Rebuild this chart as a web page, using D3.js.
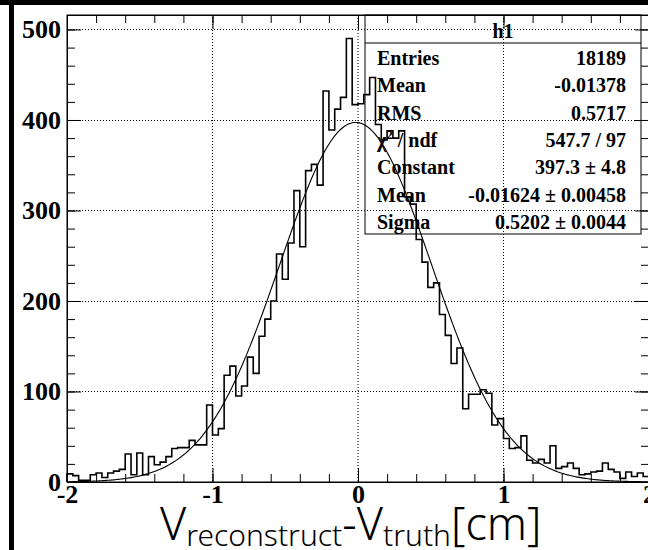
<!DOCTYPE html>
<html>
<head>
<meta charset="utf-8">
<script src="https://cdn.jsdelivr.net/npm/d3@7/dist/d3.min.js"></script>
<style>
  body { margin: 0; background: #fff; }
  svg { display: block; }
</style>
</head>
<body>
<div id="chart"></div>
<script>
// histogram h1: 100 bins from -2 to 2
var xMin = -2, xMax = 2, nBins = 100;
var counts = [
  9, 7, 2, 2, 8, 10, 5, 10, 12, 14,
  31, 8, 32, 8, 28, 19, 22, 28, 37, 38,
  38, 46, 41, 41, 85, 52, 59, 118, 128, 95,
  106, 138, 120, 161, 180, 200, 252, 224, 264, 322,
  260, 344, 351, 328, 432, 389, 412, 425, 490, 417,
  418, 428, 447, 395, 378, 388, 380, 388, 315, 307,
  268, 243, 215, 220, 185, 162, 131, 148, 81, 97,
  97, 102, 98, 63, 70, 48, 37, 38, 51, 24,
  21, 25, 21, 40, 15, 17, 21, 15, 8, 9,
  11, 12, 21, 14, 11, 4, 11, 6, 10, 6
];

// gaussian fit parameters (from the stats box)
var fitConstant = 397.3, fitMean = -0.01624, fitSigma = 0.5202;

var xTicks = [-2, -1, 0, 1, 2];
var yTicks = [0, 100, 200, 300, 400, 500];

var statsTitle = "h1";
var statsLabels = ["Entries", "Mean", "RMS", "chi2", "Constant", "Mean", "Sigma"];
var statsValues = ["18189", "-0.01378", "0.5717", "547.7 / 97", "397.3 \u00b1 4.8", "-0.01624 \u00b1 0.00458", "0.5202 \u00b1 0.0044"];

var W = 648, H = 550;
var frame = {left: 67, right: 649, top: 15, bottom: 482};

var svg = d3.select("#chart")
  .append("svg")
  .attr("width", W)
  .attr("height", H);

svg.append("rect").attr("width", W).attr("height", H).attr("fill", "#fff");

var x = d3.scaleLinear().domain([xMin, xMax]).range([frame.left, frame.right]);
var y = d3.scaleLinear().domain([0, 516]).range([frame.bottom, frame.top]);

var serif = "'Liberation Serif', 'Times New Roman', serif";

// grid (dotted)
var grid = svg.append("g");
grid.selectAll(".gx").data(xTicks.slice(1, -1)).enter().append("line")
  .attr("x1", d => x(d)).attr("x2", d => x(d))
  .attr("y1", frame.top).attr("y2", frame.bottom)
  .attr("stroke", "#000").attr("stroke-width", 1).attr("stroke-dasharray", "1,2");
grid.selectAll(".gy").data(yTicks.slice(1)).enter().append("line")
  .attr("x1", frame.left).attr("x2", frame.right)
  .attr("y1", d => Math.round(y(d)) + 0.5).attr("y2", d => Math.round(y(d)) + 0.5)
  .attr("stroke", "#000").attr("stroke-width", 1).attr("stroke-dasharray", "1,2");

// axes, ticks pointing inward
var xMinor = d3.range(-2, 2.001, 0.2).map(d => +d.toFixed(1));
var yMinor = d3.range(0, 501, 20);

function styleAxis(g) {
  g.select(".domain").attr("stroke", "#000").attr("stroke-width", 1);
  g.selectAll(".tick line").attr("stroke", "#000").attr("stroke-width", 1);
  g.selectAll("text").attr("font-family", serif).attr("font-weight", "bold")
    .attr("font-size", 26).attr("fill", "#000");
}

svg.append("g").attr("transform", "translate(0," + frame.bottom + ")")
  .call(d3.axisBottom(x).tickValues(xMinor).tickSize(-8).tickSizeOuter(0).tickFormat(""))
  .call(styleAxis);
svg.append("g").attr("transform", "translate(0," + frame.bottom + ")")
  .call(d3.axisBottom(x).tickValues(xTicks).tickSize(-14).tickSizeOuter(0).tickPadding(3)
    .tickFormat(d => String(d)))
  .call(styleAxis);
svg.append("g").attr("transform", "translate(0," + frame.top + ")")
  .call(d3.axisTop(x).tickValues(xMinor).tickSize(-8).tickSizeOuter(0).tickFormat(""))
  .call(styleAxis);
svg.append("g").attr("transform", "translate(0," + frame.top + ")")
  .call(d3.axisTop(x).tickValues(xTicks).tickSize(-14).tickSizeOuter(0).tickFormat(""))
  .call(styleAxis);

svg.append("g").attr("transform", "translate(" + frame.left + ",0)")
  .call(d3.axisLeft(y).tickValues(yMinor).tickSize(-8).tickSizeOuter(0).tickFormat(""))
  .call(styleAxis);
svg.append("g").attr("transform", "translate(" + frame.left + ",0)")
  .call(d3.axisLeft(y).tickValues(yTicks).tickSize(-14).tickSizeOuter(0).tickPadding(6)
    .tickFormat(d => String(d)))
  .call(styleAxis);
svg.append("g").attr("transform", "translate(" + frame.right + ",0)")
  .call(d3.axisRight(y).tickValues(yMinor).tickSize(-8).tickSizeOuter(0).tickFormat(""))
  .call(styleAxis);
svg.append("g").attr("transform", "translate(" + frame.right + ",0)")
  .call(d3.axisRight(y).tickValues(yTicks).tickSize(-14).tickSizeOuter(0).tickFormat(""))
  .call(styleAxis);

// frame
svg.append("rect")
  .attr("x", frame.left).attr("y", frame.top)
  .attr("width", frame.right - frame.left).attr("height", frame.bottom - frame.top)
  .attr("fill", "none").attr("stroke", "#000").attr("stroke-width", 1);

// histogram outline
var binW = (xMax - xMin) / nBins;
var steps = [[xMin, 0]];
counts.forEach(function(c, i) {
  steps.push([xMin + i * binW, c]);
  steps.push([xMin + (i + 1) * binW, c]);
});
steps.push([xMax, 0]);

svg.append("path")
  .datum(steps)
  .attr("fill", "none")
  .attr("stroke", "#000")
  .attr("stroke-width", 1.6)
  .attr("d", d3.line().x(d => x(d[0])).y(d => y(d[1])));

// fit curve
var fitX = d3.range(xMin, xMax + 0.0001, 0.01);
svg.append("path")
  .datum(fitX)
  .attr("fill", "none")
  .attr("stroke", "#000")
  .attr("stroke-width", 1.1)
  .attr("d", d3.line()
    .x(d => x(d))
    .y(d => y(fitConstant * Math.exp(-0.5 * Math.pow((d - fitMean) / fitSigma, 2)))));

// stats box (transparent)
var box = {x: 365, y: frame.top, w: 276, h: 219, head: 28};
var sb = svg.append("g");
sb.append("rect")
  .attr("x", box.x).attr("y", box.y).attr("width", box.w).attr("height", box.h)
  .attr("fill", "none").attr("stroke", "#000").attr("stroke-width", 1);
sb.append("line")
  .attr("x1", box.x).attr("x2", box.x + box.w)
  .attr("y1", box.y + box.head).attr("y2", box.y + box.head)
  .attr("stroke", "#000");
sb.append("text")
  .attr("x", box.x + box.w / 2).attr("y", box.y + 23)
  .attr("text-anchor", "middle")
  .attr("font-family", serif).attr("font-weight", "bold").attr("font-size", 20)
  .text(statsTitle);

var rowH = 27.4;
statsLabels.forEach(function(lab, i) {
  var yy = box.y + box.head + rowH * (i + 0.5) + 8;
  var t = sb.append("text")
    .attr("x", box.x + 12).attr("y", yy)
    .attr("font-family", serif).attr("font-weight", "bold").attr("font-size", 20);
  if (lab === "chi2") {
    t.append("tspan").text("\u03c7");
    t.append("tspan").attr("font-size", 13).attr("dy", -8).text("2");
    t.append("tspan").attr("dy", 8).text(" / ndf");
  } else {
    t.text(lab);
  }
  sb.append("text")
    .attr("x", box.x + box.w - 15).attr("y", yy)
    .attr("text-anchor", "end")
    .attr("font-family", serif).attr("font-weight", "bold").attr("font-size", 20)
    .text(statsValues[i]);
});

// x axis title
var title = svg.append("text")
  .attr("x", 160).attr("y", 540)
  .attr("font-family", "'Noto Sans', 'Open Sans', sans-serif")
  .attr("font-weight", 300)
  .attr("font-size", 45).attr("fill", "#000");
title.append("tspan").text("V");
title.append("tspan").attr("font-size", 30).attr("dy", 6).text("reconstruct");
title.append("tspan").attr("dy", -6).text("-V");
title.append("tspan").attr("font-size", 30).attr("dy", 6).text("truth");
title.append("tspan").attr("dy", -6).text("[cm]");

// dark page borders
svg.append("rect").attr("x", 0).attr("y", 0).attr("width", W).attr("height", 5).attr("fill", "#000");
svg.append("rect").attr("x", 9).attr("y", 0).attr("width", 5).attr("height", H).attr("fill", "#000");
</script>
</body>
</html>
